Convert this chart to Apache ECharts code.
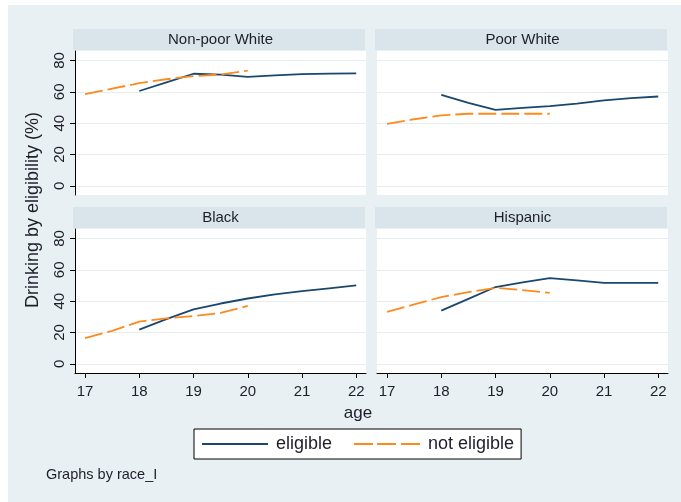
<!DOCTYPE html>
<html>
<head>
<meta charset="utf-8">
<script src="https://cdn.jsdelivr.net/npm/echarts@6/dist/echarts.min.js"></script>
<style>
  html, body { margin: 0; padding: 0; background: #ffffff; }
  #chart { width: 681px; height: 502px; }
</style>
</head>
<body>
<div id="chart"></div>
<script>
// Panels (by race) and the two eligibility groups
const panels = ['Non-poor White', 'Poor White', 'Black', 'Hispanic'];
const groups = ['eligible', 'not eligible'];

// Ages at which each group's curve is evaluated
const agesEligible = [18, 18.5, 19, 19.5, 20, 20.5, 21, 21.5, 22];
const agesNotEligible = [17, 17.5, 18, 18.5, 19, 19.5, 20];

// Drinking rate (%) by age, eligible group
const nonPoorWhiteEligible = [60.5, 66, 71.5, 71, 69.5, 70.5, 71.3, 71.6, 71.7];
const poorWhiteEligible    = [58, 53, 48.5, 49.8, 50.8, 52.5, 54.5, 56, 57];
const blackEligible        = [21.9, 28.5, 34.7, 38.5, 41.7, 44.3, 46.4, 48.2, 50];
const hispanicEligible     = [34, 41.5, 49, 52, 54.7, 53.3, 51.7, 51.7, 51.7];

// Drinking rate (%) by age, not-eligible group
const nonPoorWhiteNot = [58.5, 62, 65.5, 68, 70, 71, 73.5];
const poorWhiteNot    = [39.5, 42.5, 45, 46, 46, 46, 46];
const blackNot        = [16.5, 21, 27, 29, 30.5, 32.5, 37];
const hispanicNot     = [33.2, 37.9, 42.6, 45.7, 48.5, 47, 45.3];

// Axis ticks
const xTicks = [17, 18, 19, 20, 21, 22];
const yTicks = [0, 20, 40, 60, 80];

const eligibleByPanel = [nonPoorWhiteEligible, poorWhiteEligible, blackEligible, hispanicEligible];
const notByPanel = [nonPoorWhiteNot, poorWhiteNot, blackNot, hispanicNot];

const NAVY = '#1a476f';
const ORANGE = '#ff8a1c';
const FONT = '"Liberation Sans", Arial, sans-serif';
const TEXT = '#1e1e2a';

// Panel geometry: [left, top] of each plot region
const boxes = [[75, 51], [377, 51], [75, 229], [377, 229]];
const W = 291, H = 144;

const zip = (xs, ys) => xs.map((x, i) => [x, ys[i]]);

const grids = boxes.map(([l, t]) => ({
  left: l, top: t, width: W, height: H,
  show: true, backgroundColor: '#ffffff', borderWidth: 0
}));

const xAxes = boxes.map((b, i) => {
  const bottomRow = i >= 2;
  return {
    type: 'value', gridIndex: i, min: 16.815, max: 22.18,
    show: bottomRow,
    axisLine: { show: bottomRow, onZero: false, lineStyle: { color: '#000', width: 1 } },
    axisTick: { show: bottomRow, length: 5, customValues: xTicks, lineStyle: { color: '#000' } },
    axisLabel: { show: bottomRow, customValues: xTicks, margin: 11,
                 fontFamily: FONT, fontSize: 15, color: TEXT },
    splitLine: { show: false }
  };
});

const yAxes = boxes.map((b, i) => {
  const leftCol = i % 2 === 0;
  return {
    type: 'value', gridIndex: i, min: -5.8, max: 86,
    axisLine: { show: leftCol, onZero: false, lineStyle: { color: '#000', width: 1 } },
    axisTick: { show: leftCol, length: 5, customValues: yTicks, lineStyle: { color: '#000' } },
    axisLabel: { show: leftCol, customValues: yTicks, rotate: 90, margin: 8,
                 fontFamily: FONT, fontSize: 15, color: TEXT },
    splitLine: { show: true, lineStyle: { color: '#e6eef1', width: 1 } }
  };
});

const series = [];
panels.forEach((p, i) => {
  series.push({
    name: groups[0], type: 'line', xAxisIndex: i, yAxisIndex: i,
    data: zip(agesEligible, eligibleByPanel[i]),
    symbol: 'none', smooth: false,
    lineStyle: { color: NAVY, width: 1.8 }, itemStyle: { color: NAVY },
    z: 3
  });
  series.push({
    name: groups[1], type: 'line', xAxisIndex: i, yAxisIndex: i,
    data: zip(agesNotEligible, notByPanel[i]),
    symbol: 'none', smooth: false,
    lineStyle: { color: ORANGE, width: 1.8, type: [18, 5] }, itemStyle: { color: ORANGE },
    z: 4
  });
});

// Strip headers above each panel
const strips = [];
boxes.forEach(([l, t], i) => {
  strips.push({
    type: 'rect', shape: { x: l - 2, y: t - 22, width: W + 1, height: 21 },
    style: { fill: '#d9e5ea' }, silent: true
  });
  strips.push({
    type: 'text', x: l + W / 2, y: t - 11.5,
    style: { text: panels[i], fill: TEXT, font: '15px ' + FONT,
             textAlign: 'center', textVerticalAlign: 'middle' }, silent: true
  });
});

// Legend keys: a solid bar and a dashed bar, drawn as paths
const solidKey = 'path://M0,0h66v2h-66z';
const dashedKey = 'path://M0,0h19v2h-19z M23,0h19v2h-19z M47,0h19v2h-19z';

const option = {
  backgroundColor: '#e9f0f3',
  animation: false,
  grid: grids,
  xAxis: xAxes,
  yAxis: yAxes,
  series: series,
  legend: {
    data: [
      { name: groups[0], icon: solidKey, itemStyle: { color: NAVY } },
      { name: groups[1], icon: dashedKey, itemStyle: { color: ORANGE } }
    ],
    left: 194, top: 429,
    backgroundColor: '#ffffff',
    borderColor: '#000000', borderWidth: 1, borderRadius: 0,
    padding: [6, 7, 6, 8],
    itemWidth: 66, itemHeight: 2, itemGap: 22,
    textStyle: { fontFamily: FONT, fontSize: 18, color: TEXT, padding: [0, 0, 0, 3] }
  },
  graphic: [
    { type: 'rect', shape: { x: 0, y: 0, width: 681, height: 5 }, style: { fill: '#ffffff' }, silent: true },
    { type: 'rect', shape: { x: 0, y: 0, width: 8, height: 502 }, style: { fill: '#ffffff' }, silent: true },
    ...strips,
    {
      type: 'text', x: 33, y: 210, rotation: Math.PI / 2,
      style: { text: 'Drinking by eligibility (%)', fill: TEXT, font: '18px ' + FONT,
               textAlign: 'center', textVerticalAlign: 'middle' }, silent: true
    },
    {
      type: 'text', x: 358, y: 413,
      style: { text: 'age', fill: TEXT, font: '17px ' + FONT,
               textAlign: 'center', textVerticalAlign: 'middle' }, silent: true
    },
    {
      type: 'text', x: 46, y: 475,
      style: { text: 'Graphs by race_I', fill: TEXT, font: '14.5px ' + FONT,
               textAlign: 'left', textVerticalAlign: 'middle' }, silent: true
    }
  ]
};

const chart = echarts.init(document.getElementById('chart'), null, { renderer: 'canvas' });
chart.setOption(option);
</script>
</body>
</html>
